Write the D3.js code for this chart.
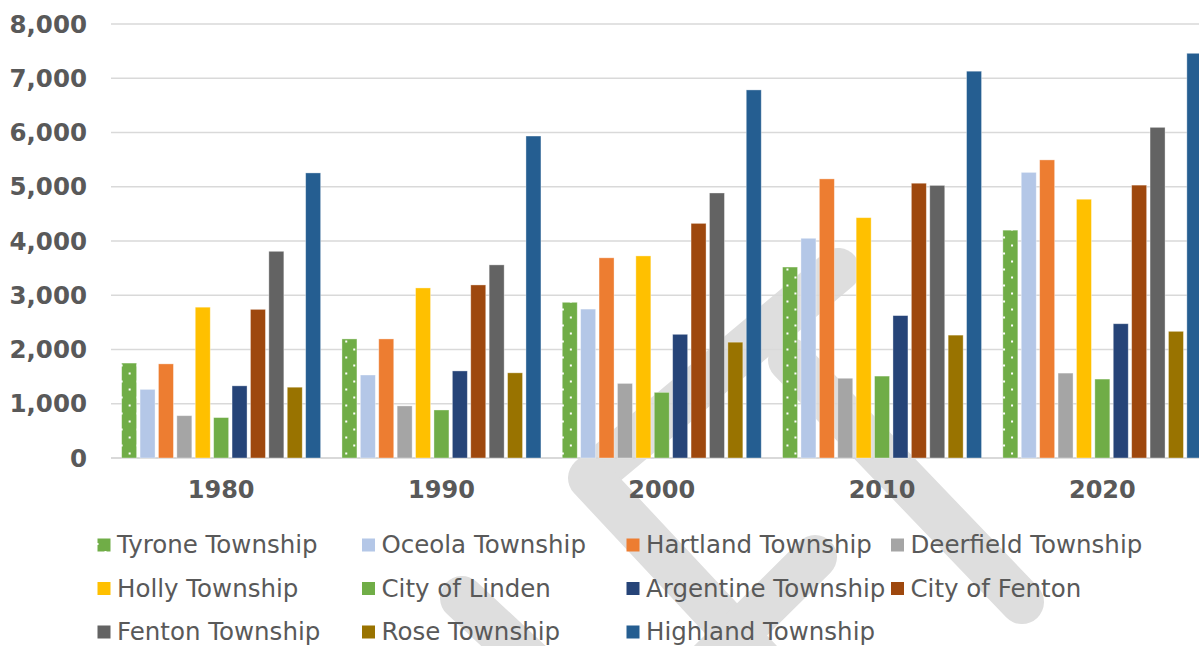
<!DOCTYPE html>
<html>
<head>
<meta charset="utf-8">
<script src="https://cdn.jsdelivr.net/npm/d3@7"></script>
<style>
  html, body { margin: 0; padding: 0; background: #fff; }
  svg { display: block; font-family: Verdana, "DejaVu Sans", sans-serif; }
</style>
</head>
<body>
<div id="chart"></div>
<script>
// Data
const years = ["1980", "1990", "2000", "2010", "2020"];
const series = ["Tyrone Township", "Oceola Township", "Hartland Township", "Deerfield Township",
    "Holly Township", "City of Linden", "Argentine Township", "City of Fenton",
    "Fenton Township", "Rose Township", "Highland Township"];
const tyrone    = [1750, 2195, 2870, 3520, 4200];
const oceola    = [1265, 1530, 2745, 4050, 5265];
const hartland  = [1735, 2195, 3690, 5145, 5495];
const deerfield = [780, 960, 1375, 1470, 1565];
const holly     = [2780, 3135, 3725, 4430, 4770];
const linden    = [745, 885, 1210, 1510, 1455];
const argentine = [1330, 1605, 2280, 2625, 2475];
const cityFenton = [2740, 3190, 4325, 5065, 5030];
const fentonTwp = [3810, 3560, 4885, 5025, 6095];
const rose      = [1305, 1570, 2135, 2265, 2335];
const highland  = [5255, 5935, 6785, 7130, 7460];
const yTicks = [0, 1000, 2000, 3000, 4000, 5000, 6000, 7000, 8000];

const valueRows = [tyrone, oceola, hartland, deerfield, holly, linden, argentine,
    cityFenton, fentonTwp, rose, highland];
const colors = ["#70AD47", "#B4C7E7", "#ED7D31", "#A5A5A5", "#FFC000", "#70AD47",
    "#264478", "#9E480E", "#636363", "#997300", "#255E91"];

const WIDTH = 1199;
const HEIGHT = 646;
const PLOT = { left: 111, right: 1212.5, top: 24, bottom: 458 };
const TEXT_COLOR = "#595959";

// Watermark strokes (background decoration)
const WATERMARK = [
    [[592, 476], [838, 270]],
    [[590, 478], [760, 660]],
    [[790, 360], [1022, 602]],
    [[815, 557], [705, 666]],
    [[462, 598], [535, 666]]
];

const svg = d3.select("#chart").append("svg")
    .attr("width", WIDTH).attr("height", HEIGHT);

const x0 = d3.scaleBand().domain(years).range([PLOT.left, PLOT.right]).padding(0);
const x1 = d3.scaleBand().domain(series)
    .range([10.65, x0.bandwidth() - 10.65])
    .paddingInner(0.185).paddingOuter(0);
const y = d3.scaleLinear().domain([0, 8000]).range([PLOT.bottom, PLOT.top]);

// Dotted pattern for Tyrone Township, one per year so dots line up with each bar
const defs = svg.append("defs");
function addDotPattern(id, px, py) {
    const p = defs.append("pattern").attr("id", id)
        .attr("patternUnits", "userSpaceOnUse")
        .attr("x", px).attr("y", py).attr("width", 16).attr("height", 16);
    p.append("rect").attr("width", 16).attr("height", 16).attr("fill", colors[0]);
    p.append("rect").attr("x", 8).attr("y", 0).attr("width", 2).attr("height", 2).attr("fill", "#fff");
    p.append("rect").attr("x", 0).attr("y", 8).attr("width", 2).attr("height", 2).attr("fill", "#fff");
}
years.forEach((yr, i) => addDotPattern("dots-" + i, x0(yr) + x1(series[0]), 452.5));
addDotPattern("dots-legend", 95, 542);

// watermark
svg.append("g").selectAll("line")
    .data(WATERMARK).enter().append("line")
    .attr("x1", d => d[0][0]).attr("y1", d => d[0][1])
    .attr("x2", d => d[1][0]).attr("y2", d => d[1][1])
    .attr("stroke", "#dedede").attr("stroke-width", 44)
    .attr("stroke-linecap", "round");

// gridlines
svg.append("g").selectAll("line")
    .data(yTicks).enter().append("line")
    .attr("x1", PLOT.left).attr("x2", PLOT.right)
    .attr("y1", d => y(d)).attr("y2", d => y(d))
    .attr("stroke", "#d9d9d9").attr("stroke-width", d => d === 0 ? 2 : 1.5);

// y tick labels
svg.append("g").selectAll("text")
    .data(yTicks).enter().append("text")
    .attr("x", 87).attr("y", d => y(d) + 8.5)
    .attr("text-anchor", "end")
    .attr("font-size", 24.5).attr("font-weight", "bold")
    .attr("fill", TEXT_COLOR)
    .text(d => d3.format(",")(d));

// bars
const groups = svg.append("g").selectAll("g")
    .data(years).enter().append("g")
    .attr("transform", d => `translate(${x0(d)},0)`);

groups.selectAll("rect")
    .data((yr, i) => series.map((s, j) => ({ s, j, i, v: valueRows[j][i] })))
    .enter().append("rect")
    .attr("x", d => x1(d.s))
    .attr("width", x1.bandwidth())
    .attr("y", d => y(d.v))
    .attr("height", d => y(0) - y(d.v))
    .attr("fill", d => d.j === 0 ? `url(#dots-${d.i})` : colors[d.j])
    .attr("stroke", "#fff").attr("stroke-opacity", 0.45).attr("stroke-width", 0.8);

// x labels
svg.append("g").selectAll("text")
    .data(years).enter().append("text")
    .attr("x", d => x0(d) + x0.bandwidth() / 2)
    .attr("y", 498)
    .attr("text-anchor", "middle")
    .attr("font-size", 24).attr("font-weight", "bold")
    .attr("fill", TEXT_COLOR)
    .text(d => d);

// legend: 4 columns, 3 rows
const legendCols = [97.5, 362, 626.5, 891];
const legendRows = [553, 596.5, 640];
const legend = svg.append("g").selectAll("g")
    .data(series).enter().append("g")
    .attr("transform", (d, i) => `translate(${legendCols[i % 4]},${legendRows[Math.floor(i / 4)]})`);

legend.append("rect")
    .attr("x", 0).attr("y", -14.5).attr("width", 13).attr("height", 13)
    .attr("fill", (d, i) => i === 0 ? "url(#dots-legend)" : colors[i]);

legend.append("text")
    .attr("x", 19.5).attr("y", 0)
    .attr("font-size", 24.5)
    .attr("fill", TEXT_COLOR)
    .text(d => d);
</script>
</body>
</html>
